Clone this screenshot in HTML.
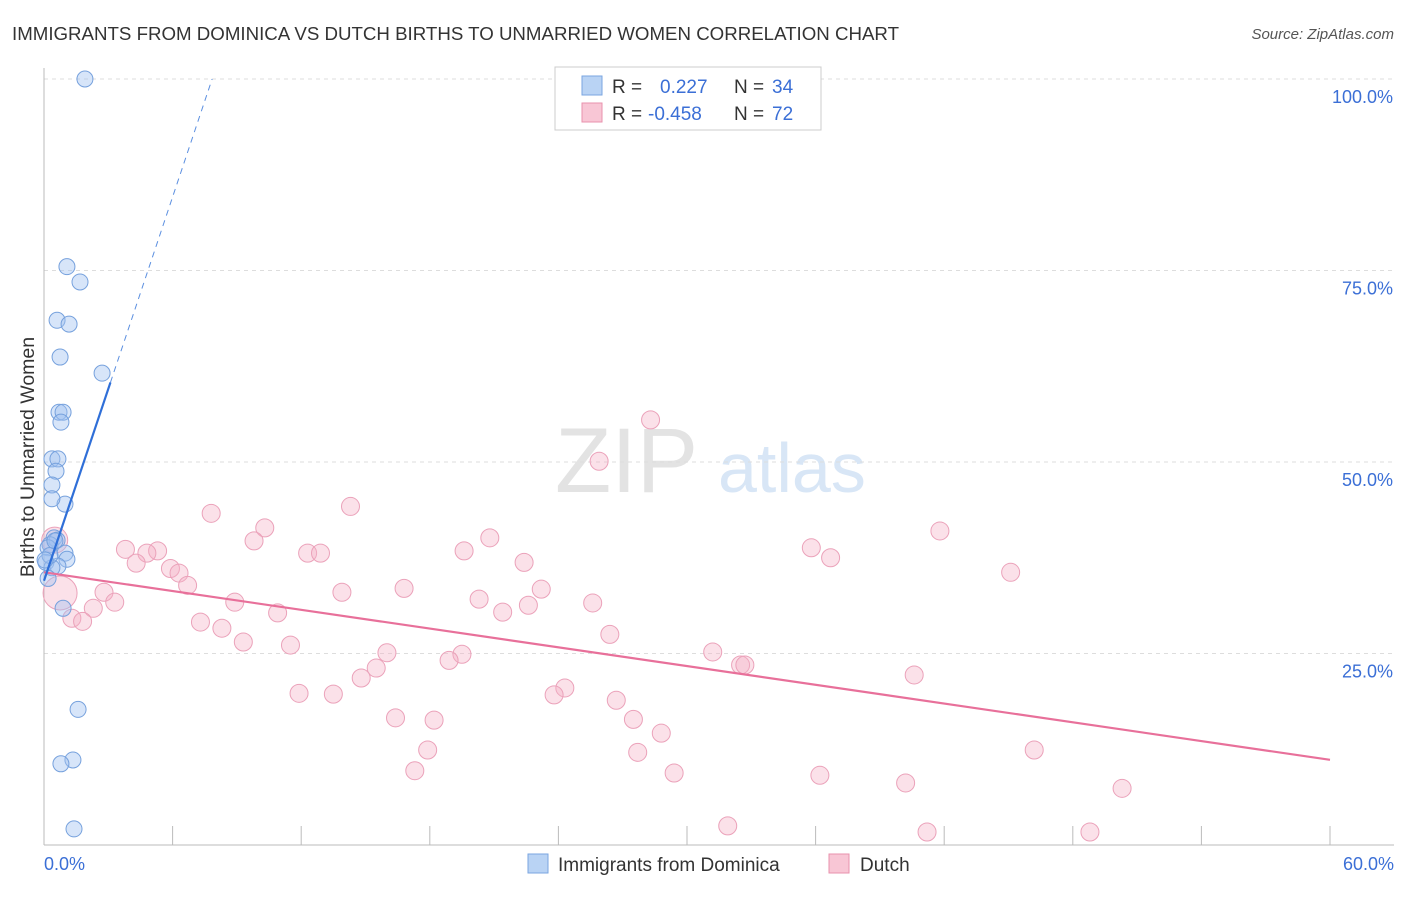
<!DOCTYPE html>
<html><head><meta charset="utf-8"><style>
body{margin:0;background:#fff;font-family:"Liberation Sans",sans-serif;}
svg text{font-family:"Liberation Sans",sans-serif;}
</style></head><body>
<svg id="chart" width="1406" height="892">
<text x="12" y="40" font-size="18.7" fill="#333">IMMIGRANTS FROM DOMINICA VS DUTCH BIRTHS TO UNMARRIED WOMEN CORRELATION CHART</text>
<text x="1394" y="39" font-size="15" fill="#555" font-style="italic" text-anchor="end">Source: ZipAtlas.com</text>
<text x="34" y="457" font-size="19.5" fill="#333" transform="rotate(-90 34 457)" text-anchor="middle">Births to Unmarried Women</text>
<text x="555" y="492" font-size="92" fill="#e3e3e3" font-family="Liberation Serif">ZIP</text>
<text x="718" y="492" font-size="70" fill="#d8e6f6">atlas</text>
<g id="grid"></g><g id="marks"></g>
<g>
<rect x="555" y="67" width="266" height="63" fill="#fff" stroke="#ccc"/>
<rect x="582" y="76" width="20" height="19" fill="#b9d3f4" stroke="#7aa6e0"/>
<rect x="582" y="103" width="20" height="19" fill="#f8c6d5" stroke="#e892ad"/>
<text x="612" y="93" font-size="19" fill="#333">R = </text><text x="660" y="93" font-size="19" fill="#3b6fd6">0.227</text>
<text x="734" y="93" font-size="19" fill="#333">N = </text><text x="772" y="93" font-size="19" fill="#3b6fd6">34</text>
<text x="612" y="120" font-size="19" fill="#333">R = </text><text x="648" y="120" font-size="19" fill="#3b6fd6">-0.458</text>
<text x="734" y="120" font-size="19" fill="#333">N = </text><text x="772" y="120" font-size="19" fill="#3b6fd6">72</text>
</g>
<g>
<rect x="528" y="854" width="20" height="19" fill="#b9d3f4" stroke="#7aa6e0"/>
<text x="558" y="871" font-size="19" fill="#333">Immigrants from Dominica</text>
<rect x="829" y="854" width="20" height="19" fill="#f8c6d5" stroke="#e892ad"/>
<text x="860" y="871" font-size="19" fill="#333">Dutch</text>
</g>
</svg>
<script>
const blueX=[1.91,1.07,1.68,0.61,1.17,0.75,2.71,0.70,0.89,0.79,0.37,0.65,0.56,0.37,0.98,0.37,0.47,0.61,0.28,0.98,0.19,1.07,0.09,0.65,0.37,0.19,0.89,1.59,1.35,0.79,1.40,0.28,0.51,0.05];
const blueY=[100,75.5,73.5,68.5,68.0,63.7,61.6,56.5,56.5,55.2,50.4,50.4,48.8,47.0,44.5,45.2,40.1,39.8,39.2,38.1,38.8,37.3,36.9,36.4,36.2,34.8,30.9,17.7,11.1,10.6,2.1,37.8,39.7,37.2];
const pinkX=[28.3,25.9,14.3,7.8,41.8,10.3,20.8,9.8,3.8,5.3,4.8,12.3,12.9,19.6,35.8,36.7,4.3,5.9,6.3,22.4,45.1,6.7,13.9,16.8,23.2,2.8,3.3,8.9,20.3,25.6,2.3,21.4,22.6,10.9,7.3,8.3,26.4,9.3,11.5,16.0,19.5,18.9,31.2,15.5,32.5,32.7,14.8,40.6,11.9,13.5,24.3,23.8,26.7,16.4,18.2,27.5,28.8,17.9,27.7,46.2,17.3,29.4,36.2,40.2,50.3,31.9,41.2,48.8,1.3,1.8,0.75,0.5];
const pinkY=[55.5,50.1,44.2,43.3,41.0,41.4,40.1,39.7,38.6,38.4,38.1,38.1,38.1,38.4,38.8,37.5,36.8,36.1,35.5,36.9,35.6,33.9,33.0,33.5,33.4,33.0,31.7,31.7,32.1,31.6,30.9,30.4,31.3,30.3,29.1,28.3,27.5,26.5,26.1,25.1,24.9,24.1,25.2,23.1,23.5,23.5,21.8,22.2,19.8,19.7,20.5,19.6,18.9,16.6,16.3,16.4,14.6,12.4,12.1,12.4,9.7,9.4,9.1,8.1,7.4,2.5,1.7,1.7,29.6,29.2,32.9,39.8];
const pinkR=[];pinkX.forEach((v,i)=>pinkR.push(i==70?17:(i==71?13:9)));
const yTicks=[25,50,75,100];
const yTickLabels=["25.0%","50.0%","75.0%","100.0%"];
const blueLine=[34.5,8.35];
const pinkLine=[35.6,-0.408];
const NS="http://www.w3.org/2000/svg";
const sx=v=>44+v/60*1286, sy=v=>845-v/100*766;
function mk(p,t,a){const e=document.createElementNS(NS,t);for(const k in a)e.setAttribute(k,a[k]);p.appendChild(e);return e;}
const g=document.getElementById('grid'),m=document.getElementById('marks');
yTicks.forEach((t,i)=>{
 const l=mk(g,'line',{x1:44,x2:1394,y1:sy(t),y2:sy(t),stroke:'#ddd','stroke-dasharray':'4 4'});
 
 
 const tx=mk(g,'text',{x:1393,y:sy(t)+24,'font-size':18,fill:'#3b6fd6','text-anchor':'end'});tx.textContent=yTickLabels[i];
 
 
});
mk(g,'line',{x1:44,x2:44,y1:68,y2:845,stroke:'#bbb'});
mk(g,'line',{x1:44,x2:1394,y1:845,y2:845,stroke:'#bbb'});
for(let i=0;i<=10;i++){const x=sx(i*6);mk(g,'line',{x1:x,x2:x,y1:826,y2:845,stroke:'#bbb'});}
let t0=mk(g,'text',{x:44,y:870,'font-size':18,fill:'#3b6fd6'});t0.textContent='0.0%';


let t1=mk(g,'text',{x:1394,y:870,'font-size':18,fill:'#3b6fd6','text-anchor':'end'});t1.textContent='60.0%';


pinkX.forEach((x,i)=>{const c=mk(m,'circle',{cx:sx(x),cy:sy(pinkY[i]),r:pinkR[i],fill:'rgba(244,175,197,0.38)',stroke:'#eba2ba','stroke-width':1});
 
 });
blueX.forEach((x,i)=>{const c=mk(m,'circle',{cx:sx(x),cy:sy(blueY[i]),r:8,fill:'rgba(160,194,240,0.42)',stroke:'#76a1dd','stroke-width':1});
 
 });
const pl=mk(m,'line',{x1:sx(0),y1:sy(pinkLine[0]),x2:sx(60),y2:sy(pinkLine[0]+pinkLine[1]*60),stroke:'#e8709a','stroke-width':2.2});


const xe=3.1,xd=(100-blueLine[0])/blueLine[1];
const bl=mk(m,'line',{x1:sx(0),y1:sy(blueLine[0]),x2:sx(xe),y2:sy(blueLine[0]+blueLine[1]*xe),stroke:'#2f6fd8','stroke-width':2.2});


const bd=mk(m,'line',{x1:sx(xe),y1:sy(blueLine[0]+blueLine[1]*xe),x2:sx(xd),y2:sy(100),stroke:'#5b8fe0','stroke-width':1,'stroke-dasharray':'6 5'});


</script>
</body></html>
